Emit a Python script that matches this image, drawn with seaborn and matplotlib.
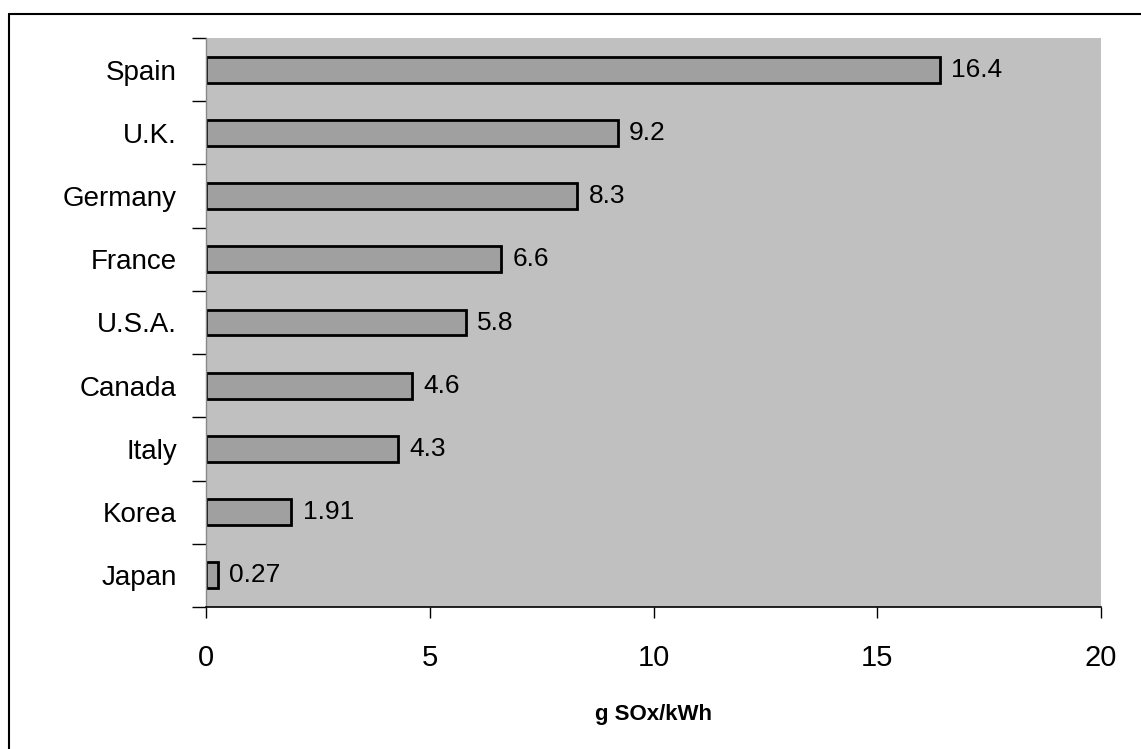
import matplotlib
matplotlib.use("Agg")
import matplotlib.pyplot as plt
import seaborn as sns
import pandas as pd
from matplotlib.lines import Line2D
from matplotlib.ticker import FixedLocator

countries = ["Spain", "U.K.", "Germany", "France", "U.S.A.", "Canada", "Italy", "Korea", "Japan"]
values = [16.4, 9.2, 8.3, 6.6, 5.8, 4.6, 4.3, 1.91, 0.27]
x_ticks = [0, 5, 10, 15, 20]
x_label = "g SOx/kWh"

df = pd.DataFrame({"country": countries, "value": values})

sns.set_style("white")
plt.rcParams["font.family"] = ["Liberation Sans", "DejaVu Sans"]
plt.rcParams["text.color"] = "black"
plt.rcParams["xtick.color"] = "black"
plt.rcParams["ytick.color"] = "black"
plt.rcParams["axes.labelcolor"] = "black"

W, H = 1141, 749
fig = plt.figure(figsize=(W / 100, H / 100), dpi=100)
ax = fig.add_axes([206 / W, 1 - 607 / H, (1101 - 206) / W, (607 - 38) / H])
ax.set_facecolor("#C0C0C0")

sns.barplot(data=df, x="value", y="country", orient="h", ax=ax,
            color="#A0A0A0", saturation=1, width=0.41,
            edgecolor="black", linewidth=2.0)

ax.set_xlim(0, 20)
ax.set_ylim(len(countries) - 0.5, -0.5)
ax.set_xticks(x_ticks)
ax.set_xticklabels([str(t) for t in x_ticks], fontsize=21)
ax.tick_params(axis="x", direction="out", length=8, width=1, color="black", pad=19, bottom=True)

ax.yaxis.set_minor_locator(FixedLocator([i - 0.5 for i in range(len(countries) + 1)]))
ax.tick_params(axis="y", which="major", length=0, pad=21, labelsize=20)
ax.tick_params(axis="y", which="minor", direction="out", length=10, width=1, color="black", left=True)

for s in ["top", "right"]:
    ax.spines[s].set_visible(False)
ax.spines["left"].set_color("#888888")
ax.spines["left"].set_linewidth(1)
ax.spines["bottom"].set_color("black")
ax.spines["bottom"].set_linewidth(1.2)

ax.set_ylabel("")
ax.set_xlabel(x_label, fontsize=16, fontweight="bold", labelpad=23)

ax.bar_label(ax.containers[0], labels=[f"{v:g}" for v in values], padding=8, fontsize=19)

fig.add_artist(Line2D([9 / W, 1], [1 - 14 / H, 1 - 14 / H], transform=fig.transFigure, color="black", lw=1.5))
fig.add_artist(Line2D([9 / W, 9 / W], [0, 1 - 14 / H], transform=fig.transFigure, color="black", lw=1.5))

fig.savefig("out.png", dpi=100)
